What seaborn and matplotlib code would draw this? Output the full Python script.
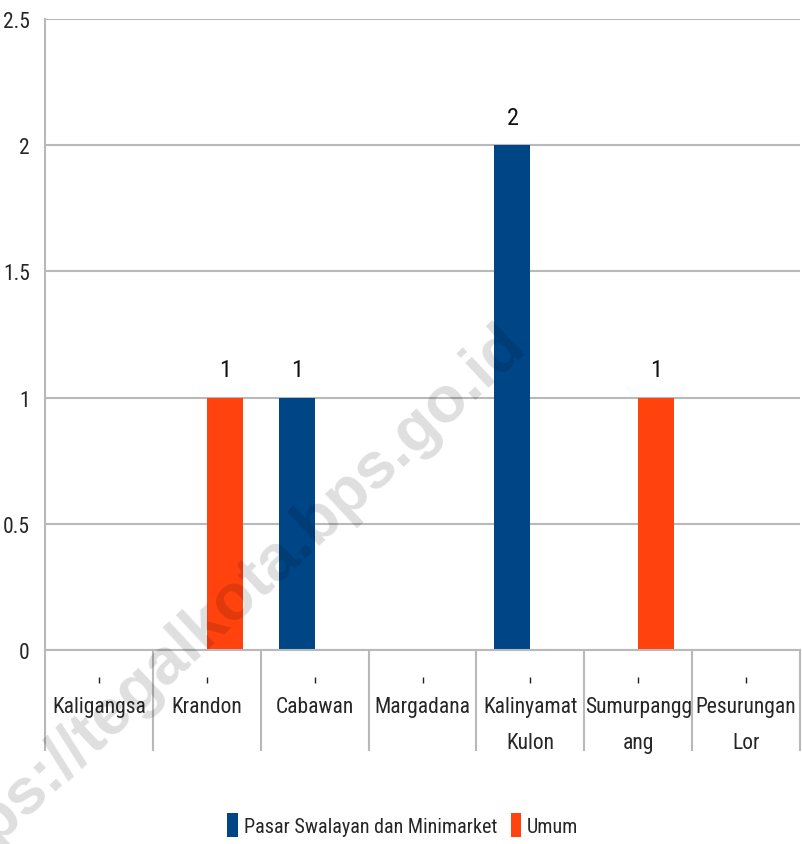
import matplotlib
matplotlib.use("Agg")
import matplotlib.pyplot as plt
import matplotlib.transforms as mtransforms
from matplotlib import font_manager as fm
from matplotlib.patches import Patch
import seaborn as sns
import pandas as pd

# Jumlah pasar per kelurahan
kelurahan = ["Kaligangsa", "Krandon", "Cabawan", "Margadana",
             "Kalinyamat Kulon", "Sumurpanggang", "Pesurungan Lor"]
tick_labels = ["Kaligangsa", "Krandon", "Cabawan", "Margadana",
               "Kalinyamat\nKulon", "Sumurpangg\nang", "Pesurungan\nLor"]
series_names = ["Pasar Swalayan dan Minimarket", "Umum"]
swalayan = [0, 0, 1, 0, 2, 0, 0]
umum = [0, 1, 0, 0, 0, 1, 0]
y_ticks = [0, 0.5, 1, 1.5, 2, 2.5]
y_tick_labels = ["0", "0.5", "1", "1.5", "2", "2.5"]

colors = ["#004586", "#ff420e"]
grid_color = "#b9b9b9"

df = pd.DataFrame({
    "kelurahan": kelurahan * 2,
    "jenis": [series_names[0]] * len(kelurahan) + [series_names[1]] * len(kelurahan),
    "jumlah": swalayan + umum,
})

sns.set_style("white")

# pick a narrow face if one is available, else condensed DejaVu
installed = {f.name for f in fm.fontManager.ttflist}
narrow = next((n for n in ["Liberation Sans Narrow", "Roboto Condensed",
                           "Open Sans Condensed", "Arial Narrow"]
               if n in installed), None)
if narrow:
    plt.rcParams["font.family"] = [narrow, "DejaVu Sans"]
    FS = 15.5
else:
    plt.rcParams["font.family"] = ["DejaVu Sans"]
    plt.rcParams["font.stretch"] = "condensed"
    FS = 13.5

fig = plt.figure(figsize=(8.02, 8.45), dpi=100)
W, H = 802, 845
ax = fig.add_axes([45 / W, 1 - 651 / H, (800 - 45) / W, (651 - 20) / H])

sns.barplot(data=df, x="kelurahan", y="jumlah", hue="jenis", order=kelurahan,
            hue_order=series_names, palette=colors, width=2 / 3,
            saturation=1, legend=False, ax=ax, linewidth=0)

ax.set_xlim(-0.5, len(kelurahan) - 0.5)
ax.set_ylim(0, 2.5)
ax.set_yticks(y_ticks)
ax.set_yticklabels(y_tick_labels, fontsize=FS)
ax.yaxis.grid(True, color=grid_color, linewidth=1.5)
ax.set_axisbelow(True)
ax.tick_params(axis="y", length=5, width=1.5, color=grid_color, pad=6)

ax.set_xticks(range(len(kelurahan)))
ax.set_xticklabels(tick_labels, fontsize=FS, linespacing=1.95, va="top")
ax.tick_params(axis="x", length=0, pad=33)
ax.set_xlabel("")
ax.set_ylabel("")

for side in ["top", "right"]:
    ax.spines[side].set_visible(False)
for side in ["left", "bottom"]:
    ax.spines[side].set_color(grid_color)
    ax.spines[side].set_linewidth(1.5)

# category separators and small center marks under the axis
blend = mtransforms.blended_transform_factory(ax.transData, ax.transAxes)
axis_h = 651 - 20
bounds = [i - 0.5 for i in range(len(kelurahan) + 1)]
ax.vlines(bounds, 0, -101 / axis_h, transform=blend, colors=grid_color,
          linewidth=1.5, clip_on=False)
ax.vlines(range(len(kelurahan)), -27 / axis_h, -33 / axis_h, transform=blend,
          colors="#222222", linewidth=1, clip_on=False)

# value labels on non-zero bars
for cont, vals in zip(ax.containers, [swalayan, umum]):
    labels = [f"{v:g}" if v else "" for v in vals]
    ax.bar_label(cont, labels=labels, padding=12, fontsize=FS + 2, color="#111111")

handles = [Patch(facecolor=c, edgecolor="none") for c in colors]
fig.legend(handles, series_names, loc="center",
           bbox_to_anchor=(403 / W, 1 - 826 / H), ncol=2, frameon=False,
           fontsize=FS - 1, handlelength=0.5, handleheight=1.5,
           handletextpad=0.3, columnspacing=0.7)

# site watermark
fig.text(527 / W, 1 - 348 / H, "https://tegalkota.bps.go.id",
         fontsize=47, fontweight="bold", family="Liberation Sans",
         stretch="normal", color="black", alpha=0.13, rotation=43,
         rotation_mode="anchor", ha="right", va="baseline")

fig.savefig("out.png", dpi=100)
